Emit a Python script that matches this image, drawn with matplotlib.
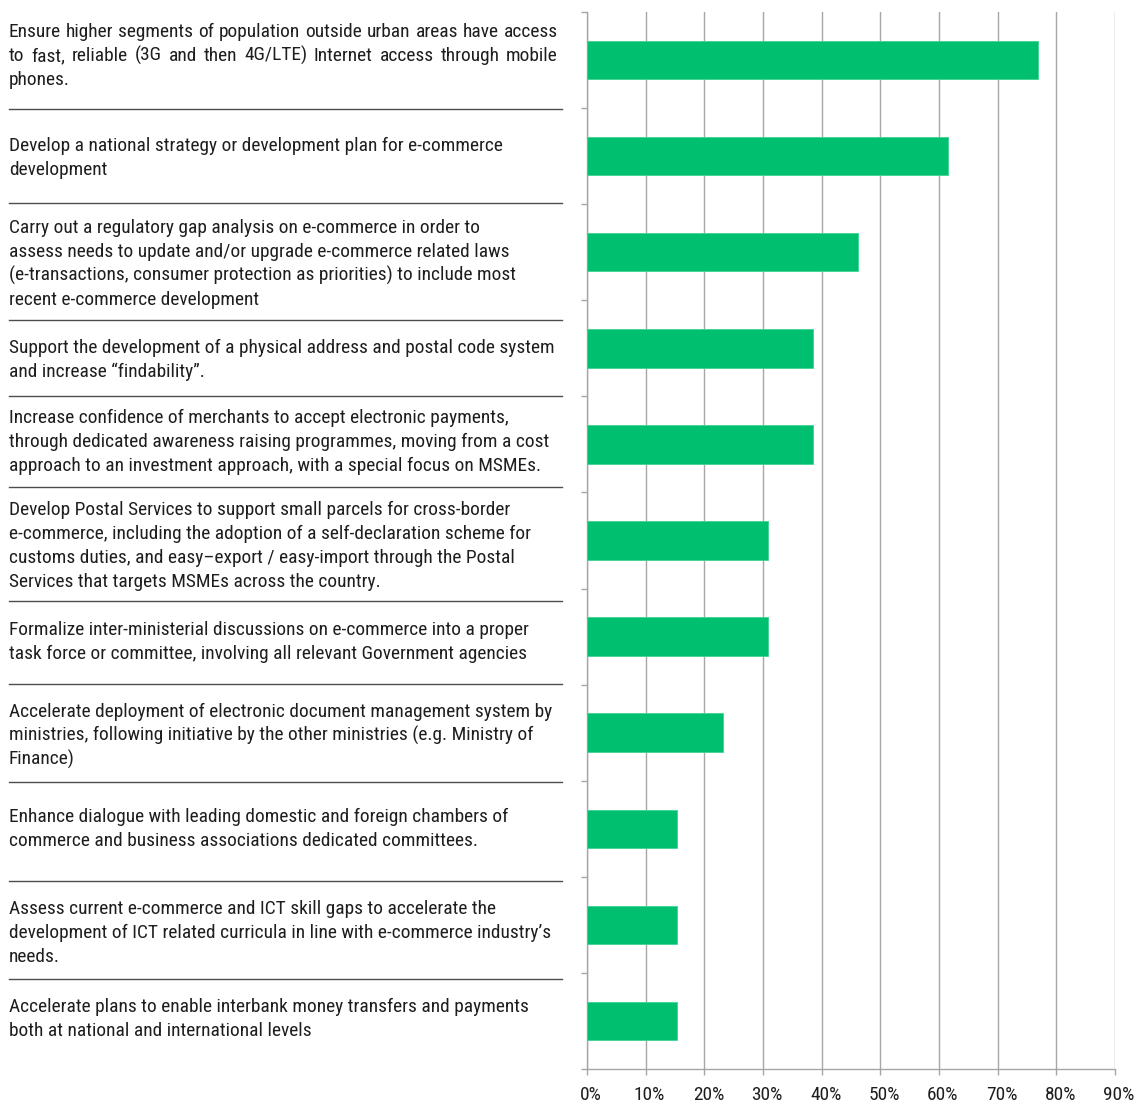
import matplotlib
matplotlib.use("Agg")
import matplotlib.pyplot as plt
from matplotlib import font_manager as fm
from matplotlib.transforms import ScaledTranslation
import numpy as np

# Survey: share of respondents ranking each measure as a priority
categories = [
    "Ensure higher segments of  population outside urban areas have access\nto fast, reliable (3G and then 4G/LTE) Internet access through mobile\nphones.",
    "Develop a national strategy or development plan for e-commerce\ndevelopment",
    "Carry out a regulatory gap analysis on e-commerce in order to\nassess needs to update and/or upgrade e-commerce related laws\n(e-transactions, consumer protection as priorities) to include most\nrecent e-commerce development",
    "Support the development of a physical address and postal code system\nand increase \u201cfindability\u201d.",
    "Increase confidence of merchants to accept electronic payments,\nthrough dedicated awareness raising programmes, moving from a cost\napproach to an investment approach, with a special focus on MSMEs.",
    "Develop Postal Services to support small parcels for cross-border\ne-commerce, including the adoption of a self-declaration scheme for\ncustoms duties, and easy\u2013export / easy-import through the Postal\nServices that targets MSMEs across the country.",
    "Formalize inter-ministerial discussions on e-commerce into a proper\ntask force or committee, involving all relevant Government agencies",
    "Accelerate deployment of electronic document management system by\nministries, following initiative by the other ministries (e.g. Ministry of\nFinance)",
    "Enhance dialogue with leading domestic and foreign chambers of\ncommerce and business associations dedicated committees.",
    "Assess current e-commerce and ICT skill gaps to accelerate the\ndevelopment of ICT related curricula in line with e-commerce industry\u2019s\nneeds.",
    "Accelerate plans to enable interbank money transfers and payments\nboth at national and international levels",
]
shares = [76.9, 61.5, 46.2, 38.5, 38.5, 30.8, 30.8, 23.1, 15.4, 15.4, 15.4]
xticks = [0, 10, 20, 30, 40, 50, 60, 70, 80, 90]
xtick_labels = ["0%", "10%", "20%", "30%", "40%", "50%", "60%", "70%", "80%", "90%"]

# Layout (pixels from the top-left corner of the canvas)
W, H = 1140, 1112
label_baselines = [37, 151, 233, 353, 423, 515, 635, 717, 822, 914, 1012]
separators = [109, 203, 320, 396, 487, 601, 684, 782, 881, 979]
line_step = 24
text_x0, text_x1 = 9, 558
sep_x0, sep_x1 = 9, 562

BAR = "#00BF6F"
GRID = "#A6A6A6"
INK = "#1E1E1E"


def pick_font():
    for name in ["Liberation Sans Narrow", "Roboto Condensed", "Open Sans Condensed",
                 "Arial Narrow"]:
        try:
            fm.findfont(fm.FontProperties(family=name), fallback_to_default=False)
            return name
        except Exception:
            continue
    return "Liberation Sans"


FONT = pick_font()
plt.rcParams["font.family"] = [FONT, "DejaVu Sans"]

fig = plt.figure(figsize=(W / 100, H / 100), dpi=100)
renderer = fig.canvas.get_renderer()


def px(x, y):
    return x / W, 1 - y / H


def text_width(s, size):
    t = fig.text(0, 0, s, fontsize=size)
    w = t.get_window_extent(renderer).width
    t.remove()
    return w


# size the label font so the widest free-running line spans the text column
ref_line = "Support the development of a physical address and postal code system"
fsize = 10 * 543 / text_width(ref_line, 10)
fsize = min(fsize, 14.0)

ax = fig.add_axes([587 / W, 1 - 1069 / H, (1115 - 587) / W, (1069 - 12) / H])
n = len(categories)
ypos = np.arange(n)
ax.barh(ypos, shares, height=0.4, color=BAR, edgecolor="#3DD592", linewidth=0.6, zorder=3)
ax.set_xlim(0, 90)
ax.set_ylim(n - 0.5, -0.5)
ax.set_xticks(xticks)
ax.set_xticklabels(xtick_labels, fontsize=fsize, color=INK)
ax.set_yticks(np.arange(-0.5, n, 1.0))
ax.set_yticklabels([])
ax.grid(axis="x", color=GRID, linewidth=1.0, zorder=0)
ax.grid(axis="y", visible=False)
for side in ["top", "right"]:
    ax.spines[side].set_visible(False)
for side in ["left", "bottom"]:
    ax.spines[side].set_color(GRID)
    ax.spines[side].set_linewidth(1.0)
ax.tick_params(axis="x", direction="out", length=4, width=1.0, color=GRID, pad=8)
ax.tick_params(axis="y", direction="out", length=4, width=1.0, color=GRID)
for lab in ax.get_xticklabels():
    lab.set_transform(lab.get_transform() + ScaledTranslation(4 / 100, 0, fig.dpi_scale_trans))

# separators between the measure descriptions
for sy in separators:
    x0, y0 = px(sep_x0, sy)
    x1, _ = px(sep_x1, sy)
    fig.add_artist(plt.Line2D([x0, x1], [y0, y0], color="#4D4D4D", linewidth=1.0,
                              transform=fig.transFigure))


def justified(line, y):
    words = line.split()
    widths = [text_width(w_, fsize) for w_ in words]
    gap = (text_x1 - text_x0 - sum(widths)) / (len(words) - 1)
    x = text_x0
    for w_, ww in zip(words, widths):
        fig.text(*px(x, y), w_, fontsize=fsize, color=INK, va="baseline", ha="left")
        x += ww + gap


for i, (label, base) in enumerate(zip(categories, label_baselines)):
    lines = label.split("\n")
    for k, line in enumerate(lines):
        y = base + k * line_step
        if i == 0 and k < len(lines) - 1:
            justified(line, y)
        else:
            fig.text(*px(text_x0, y), line, fontsize=fsize, color=INK,
                     va="baseline", ha="left")

fig.savefig("out.png", dpi=100)
